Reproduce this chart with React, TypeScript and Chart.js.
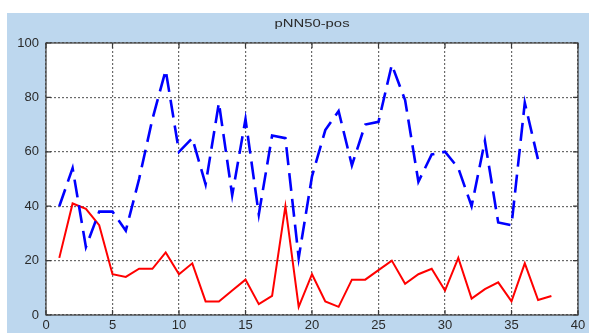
import React, { useEffect, useRef } from "react";
import { Chart, registerables } from "chart.js";

Chart.register(...registerables);

const titleText = "pNN50-pos";
const xValues = [1, 2, 3, 4, 5, 6, 7, 8, 9, 10, 11, 12, 13, 14, 15, 16, 17, 18, 19, 20, 21, 22, 23, 24, 25, 26, 27, 28, 29, 30, 31, 32, 33, 34, 35, 36, 37, 38];
const blueSeries: (number | null)[] = [40, 54, 25, 38, 38, 31, 50, 72, 90, 60, 65, 48, 78, 44, 72, 37, 66, 65, 21, 51, 68, 75, 55, 70, 71, 92, 79, 49, 59, 60, 54, 40, 64, 34, 33, 78, 57, null];
const redSeries: (number | null)[] = [21, 41, 39, 33, 15, 14, 17, 17, 23, 15, 19, 5, 5, 9, 13, 4, 7, 40, 3, 15, 5, 3, 13, 13, 16.5, 20, 11.5, 15, 17, 9, 21, 6, 9.5, 12, 5, 19, 5.5, 7];
const xTicks = [0, 5, 10, 15, 20, 25, 30, 35, 40];
const yTicks = [0, 20, 40, 60, 80, 100];

const FONT = "'Liberation Sans', Arial, sans-serif";

export default function App() {
  const ref = useRef<HTMLCanvasElement | null>(null);

  useEffect(() => {
    document.body.style.margin = "0";
    const canvas = ref.current;
    if (!canvas) return;

    const framePlugin = {
      id: "frame",
      beforeDraw(chart: any) {
        const { ctx, chartArea } = chart;
        ctx.save();
        ctx.fillStyle = "#ffffff";
        ctx.fillRect(chartArea.left, chartArea.top, chartArea.right - chartArea.left, chartArea.bottom - chartArea.top);
        ctx.restore();
      },
      afterDatasetsDraw(chart: any) {
        const { ctx, chartArea } = chart;
        const { left, right, top, bottom } = chartArea;
        const xs = chart.scales.x;
        const ys = chart.scales.y;
        ctx.save();
        ctx.strokeStyle = "#3a3a3a";
        ctx.lineWidth = 1.2;
        ctx.setLineDash([]);
        ctx.strokeRect(left, top, right - left, bottom - top);
        ctx.beginPath();
        for (const t of xTicks) {
          const px = xs.getPixelForValue(t);
          ctx.moveTo(px, bottom);
          ctx.lineTo(px, bottom - 5);
          ctx.moveTo(px, top);
          ctx.lineTo(px, top + 5);
        }
        for (const t of yTicks) {
          const py = ys.getPixelForValue(t);
          ctx.moveTo(left, py);
          ctx.lineTo(left + 5, py);
          ctx.moveTo(right, py);
          ctx.lineTo(right - 5, py);
        }
        ctx.stroke();
        ctx.restore();
      },
      afterDraw(chart: any) {
        const { ctx, chartArea } = chart;
        ctx.save();
        ctx.fillStyle = "#2a2a2a";
        ctx.font = `11px ${FONT}`;
        ctx.textAlign = "center";
        ctx.textBaseline = "middle";
        const cx = (chartArea.left + chartArea.right) / 2;
        ctx.translate(cx, 11);
        ctx.scale(1.35, 1);
        ctx.fillText(titleText, 0, 0);
        ctx.restore();
      },
    };

    const chart = new Chart(canvas, {
      type: "line",
      data: {
        datasets: [
          {
            label: "blue",
            data: xValues.map((x, i) => ({ x, y: blueSeries[i] })),
            borderColor: "#0000ff",
            borderWidth: 2.6,
            borderDash: [18, 8],
            pointRadius: 0,
            tension: 0,
            fill: false,
            spanGaps: false,
          },
          {
            label: "red",
            data: xValues.map((x, i) => ({ x, y: redSeries[i] })),
            borderColor: "#ff0000",
            borderWidth: 2,
            pointRadius: 0,
            tension: 0,
            fill: false,
          },
        ],
      },
      options: {
        animation: false,
        responsive: false,
        events: [],
        layout: { padding: { left: 0, right: 11, top: 30, bottom: 0 } },
        plugins: {
          legend: { display: false },
          title: { display: false },
          tooltip: { enabled: false },
        },
        scales: {
          x: {
            type: "linear",
            min: 0,
            max: 40,
            afterBuildTicks: (s: any) => {
              s.ticks = xTicks.map((v) => ({ value: v }));
            },
            afterFit: (s: any) => {
              s.height = 18;
            },
            ticks: {
              color: "#2a2a2a",
              font: { family: FONT, size: 13 },
              padding: 3,
              maxRotation: 0,
              autoSkip: false,
            },
            grid: { color: "#6a6a6a", lineWidth: 1.2, drawTicks: false },
            border: { display: false, dash: [2, 2] },
          },
          y: {
            type: "linear",
            min: 0,
            max: 100,
            afterBuildTicks: (s: any) => {
              s.ticks = yTicks.map((v) => ({ value: v }));
            },
            afterFit: (s: any) => {
              s.width = 39;
            },
            ticks: {
              color: "#2a2a2a",
              font: { family: FONT, size: 13 },
              padding: 7,
              autoSkip: false,
            },
            grid: { color: "#6a6a6a", lineWidth: 1.2, drawTicks: false },
            border: { display: false, dash: [2, 2] },
          },
        },
      },
      plugins: [framePlugin],
    } as any);

    return () => chart.destroy();
  }, []);

  return (
    <div style={{ position: "relative", width: 589, height: 333, background: "#ffffff", overflow: "hidden" }}>
      <div style={{ position: "absolute", left: 7, top: 13, width: 582, height: 320, background: "#bdd7ee" }}>
        <canvas ref={ref} width={582} height={320} style={{ display: "block", width: 582, height: 320 }} />
      </div>
    </div>
  );
}
